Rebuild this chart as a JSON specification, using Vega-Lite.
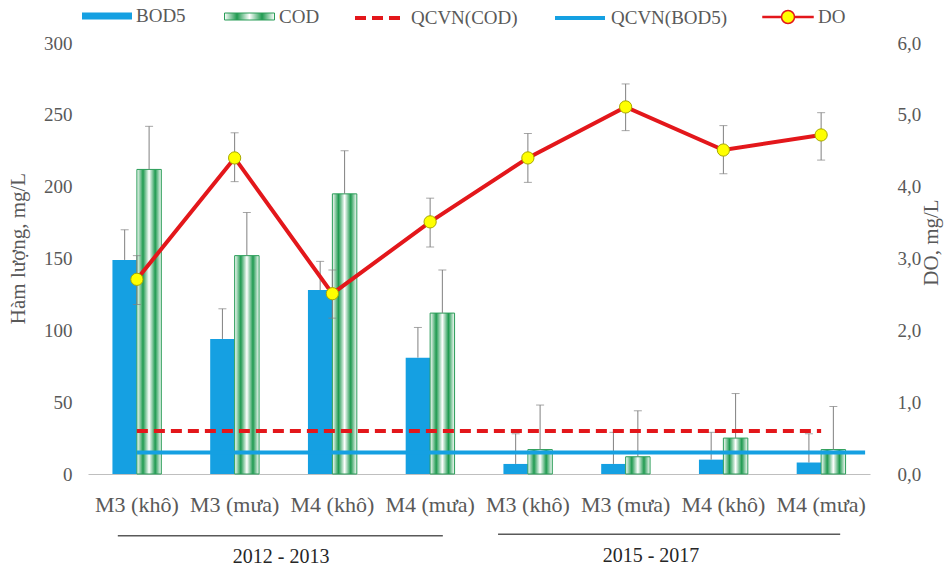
{
  "$schema": "https://vega.github.io/schema/vega-lite/v6.json",
  "width": 782,
  "height": 431,
  "autosize": {"type": "none"},
  "padding": {"left": 88, "top": 43, "right": 76, "bottom": 94},
  "background": "white",
  "config": {
    "view": {"stroke": null},
    "font": "Liberation Serif",
    "axis": {"grid": false},
    "legend": {"labelFont": "Liberation Serif", "labelFontSize": 19, "labelColor": "#595959", "labelOffset": 4, "padding": 0, "symbolSize": 2500, "orient": "none", "title": null}
  },
  "datasets": {
    "bars": [
      {"cat": "M3 (khô)|a", "series": "BOD5", "value": 149, "upper": 170},
      {"cat": "M3 (khô)|a", "series": "COD", "value": 212, "upper": 242},
      {"cat": "M3 (mưa)|a", "series": "BOD5", "value": 94, "upper": 115},
      {"cat": "M3 (mưa)|a", "series": "COD", "value": 152, "upper": 182},
      {"cat": "M4 (khô)|a", "series": "BOD5", "value": 128, "upper": 148},
      {"cat": "M4 (khô)|a", "series": "COD", "value": 195, "upper": 225},
      {"cat": "M4 (mưa)|a", "series": "BOD5", "value": 81, "upper": 102},
      {"cat": "M4 (mưa)|a", "series": "COD", "value": 112, "upper": 142},
      {"cat": "M3 (khô)|b", "series": "BOD5", "value": 7, "upper": 28},
      {"cat": "M3 (khô)|b", "series": "COD", "value": 17, "upper": 48},
      {"cat": "M3 (mưa)|b", "series": "BOD5", "value": 7, "upper": 29},
      {"cat": "M3 (mưa)|b", "series": "COD", "value": 12, "upper": 44},
      {"cat": "M4 (khô)|b", "series": "BOD5", "value": 10, "upper": 29},
      {"cat": "M4 (khô)|b", "series": "COD", "value": 25, "upper": 56},
      {"cat": "M4 (mưa)|b", "series": "BOD5", "value": 8, "upper": 28},
      {"cat": "M4 (mưa)|b", "series": "COD", "value": 17, "upper": 47}
    ],
    "do": [
      {"cat": "M3 (khô)|a", "series": "DO", "value": 2.71, "lower": 2.36, "upper": 3.04},
      {"cat": "M3 (mưa)|a", "series": "DO", "value": 4.40, "lower": 4.07, "upper": 4.75},
      {"cat": "M4 (khô)|a", "series": "DO", "value": 2.51, "lower": 2.17, "upper": 2.84},
      {"cat": "M4 (mưa)|a", "series": "DO", "value": 3.51, "lower": 3.16, "upper": 3.84},
      {"cat": "M3 (khô)|b", "series": "DO", "value": 4.40, "lower": 4.06, "upper": 4.74},
      {"cat": "M3 (mưa)|b", "series": "DO", "value": 5.11, "lower": 4.78, "upper": 5.43},
      {"cat": "M4 (khô)|b", "series": "DO", "value": 4.51, "lower": 4.18, "upper": 4.85},
      {"cat": "M4 (mưa)|b", "series": "DO", "value": 4.72, "lower": 4.37, "upper": 5.03}
    ],
    "qcvn": [
      {"series": "QCVN(COD)", "value": 30, "start": "M3 (khô)|a", "end": "M4 (mưa)|b"},
      {"series": "QCVN(BOD5)", "value": 15, "start": "M3 (khô)|a", "end": "M4 (mưa)|b"}
    ],
    "groups": [
      {"label": "2012 - 2013", "start": "M3 (khô)|a", "end": "M4 (mưa)|a", "mid": "M3 (mưa)|a"},
      {"label": "2015 - 2017", "start": "M3 (khô)|b", "end": "M4 (mưa)|b", "mid": "M3 (mưa)|b"}
    ]
  },
  "layer": [
    {
      "layer": [
        {
          "data": {"name": "bars"},
          "transform": [{"filter": "datum.series === 'BOD5'"}],
          "mark": {"type": "bar"},
          "encoding": {
            "x": {
              "field": "cat", "type": "nominal", "title": null,
              "scale": {"domain": ["M3 (khô)|a", "M3 (mưa)|a", "M4 (khô)|a", "M4 (mưa)|a", "M3 (khô)|b", "M3 (mưa)|b", "M4 (khô)|b", "M4 (mưa)|b"], "paddingInner": 0.5, "paddingOuter": 0.25},
              "axis": {"labelExpr": "split(datum.value, '|')[0]", "labelAngle": 0, "labelOverlap": false, "domainColor": "#bfbfbf", "domainWidth": 1, "ticks": false, "labelPadding": 20, "labelFontSize": 22, "labelColor": "#595959", "labelLimit": 200}
            },
            "xOffset": {"field": "series", "type": "nominal", "scale": {"domain": ["BOD5", "COD"], "paddingInner": 0, "paddingOuter": 0}},
            "y": {
              "field": "value", "type": "quantitative",
              "scale": {"domain": [0, 300]},
              "axis": {"orient": "left", "values": [0, 50, 100, 150, 200, 250, 300], "domain": false, "ticks": false, "labelPadding": 16, "labelFontSize": 19, "labelColor": "#595959", "title": "Hàm lượng, mg/L", "titleFontSize": 21, "titleFontWeight": "normal", "titleColor": "#595959", "titleAngle": 270, "titleX": -70, "titleY": 205, "titleAlign": "center", "titleBaseline": "middle"}
            },
            "fill": {
              "field": "series", "type": "nominal",
              "scale": {"domain": ["BOD5"], "range": ["#15a0e2"]},
              "legend": {"orient": "none", "legendX": -6, "legendY": -52, "title": null, "symbolType": "M-1,-0.14H1V0.14H-1Z", "symbolStrokeWidth": 0}
            }
          }
        },
        {
          "data": {"name": "bars"},
          "transform": [{"filter": "datum.series === 'COD'"}],
          "mark": {"type": "bar", "strokeWidth": 1, "fill": {"gradient": "linear", "x1": 0, "y1": 0, "x2": 1, "y2": 0, "stops": [{"offset": 0, "color": "#ffffff"}, {"offset": 0.25, "color": "#1f9a50"}, {"offset": 0.5, "color": "#ffffff"}, {"offset": 0.75, "color": "#1f9a50"}, {"offset": 1, "color": "#ffffff"}]}},
          "encoding": {
            "x": {"field": "cat", "type": "nominal", "title": null},
            "xOffset": {"field": "series", "type": "nominal"},
            "y": {"field": "value", "type": "quantitative", "scale": {"domain": [0, 300]}},
            "stroke": {
              "field": "series", "type": "nominal",
              "scale": {"domain": ["COD"], "range": ["#2a9d58"]},
              "legend": {"orient": "none", "legendX": 136, "legendY": -52, "title": null, "symbolType": "M-1,-0.14H1V0.14H-1Z", "symbolStrokeWidth": 1}
            }
          }
        },
        {
          "data": {"name": "bars"},
          "mark": {"type": "rule", "color": "#808080", "strokeWidth": 1},
          "encoding": {
            "x": {"field": "cat", "type": "nominal", "title": null},
            "xOffset": {"field": "series", "type": "nominal"},
            "y": {"field": "value", "type": "quantitative", "scale": {"domain": [0, 300]}},
            "y2": {"field": "upper"}
          }
        },
        {
          "data": {"name": "bars"},
          "mark": {"type": "tick", "color": "#808080", "size": 8, "thickness": 1},
          "encoding": {
            "x": {"field": "cat", "type": "nominal", "title": null},
            "xOffset": {"field": "series", "type": "nominal"},
            "y": {"field": "upper", "type": "quantitative", "scale": {"domain": [0, 300]}}
          }
        },
        {
          "data": {"name": "qcvn"},
          "transform": [{"filter": "datum.series === 'QCVN(BOD5)'"}],
          "mark": {"type": "rule", "strokeWidth": 4},
          "encoding": {
            "x": {"field": "start", "type": "nominal", "title": null, "bandPosition": 0.5},
            "x2": {"field": "end", "bandPosition": 1.4},
            "y": {"field": "value", "type": "quantitative", "scale": {"domain": [0, 300]}},
            "color": {
              "field": "series", "type": "nominal",
              "scale": {"domain": ["QCVN(BOD5)"], "range": ["#15a0e2"]},
              "legend": {"orient": "none", "legendX": 465, "legendY": -52, "title": null, "symbolType": "stroke", "symbolStrokeWidth": 4}
            }
          }
        },
        {
          "data": {"name": "qcvn"},
          "transform": [{"filter": "datum.series === 'QCVN(COD)'"}],
          "mark": {"type": "rule", "color": "#e3171b", "strokeWidth": 4},
          "encoding": {
            "x": {"field": "start", "type": "nominal", "title": null, "bandPosition": 0.5},
            "x2": {"field": "end", "bandPosition": 0.5},
            "y": {"field": "value", "type": "quantitative", "scale": {"domain": [0, 300]}},
            "strokeDash": {
              "field": "series", "type": "nominal",
              "scale": {"domain": ["QCVN(COD)"], "range": [[11, 6]]},
              "legend": {"orient": "none", "legendX": 265, "legendY": -52, "title": null, "symbolType": "stroke", "symbolStrokeWidth": 4, "symbolStrokeColor": "#e3171b"}
            }
          }
        },
        {
          "data": {"name": "groups"},
          "transform": [{"filter": "datum.label === '2012 - 2013'"}],
          "mark": {"type": "rule", "color": "#595959", "strokeWidth": 1.5},
          "encoding": {
            "x": {"field": "start", "type": "nominal", "title": null, "bandPosition": 0.11},
            "x2": {"field": "end", "bandPosition": 0.76},
            "y": {"datum": -43, "type": "quantitative", "scale": {"domain": [0, 300]}}
          }
        },
        {
          "data": {"name": "groups"},
          "transform": [{"filter": "datum.label === '2015 - 2017'"}],
          "mark": {"type": "rule", "color": "#595959", "strokeWidth": 1.5},
          "encoding": {
            "x": {"field": "start", "type": "nominal", "title": null, "bandPosition": -0.11},
            "x2": {"field": "end", "bandPosition": 0.89},
            "y": {"datum": -42, "type": "quantitative", "scale": {"domain": [0, 300]}}
          }
        },
        {
          "data": {"name": "groups"},
          "transform": [{"filter": "datum.label === '2012 - 2013'"}],
          "mark": {"type": "text", "fontSize": 20, "color": "#262626", "baseline": "middle", "align": "center"},
          "encoding": {
            "x": {"field": "mid", "type": "nominal", "title": null, "bandPosition": 1.45},
            "y": {"datum": -58, "type": "quantitative", "scale": {"domain": [0, 300]}},
            "text": {"field": "label"}
          }
        },
        {
          "data": {"name": "groups"},
          "transform": [{"filter": "datum.label === '2015 - 2017'"}],
          "mark": {"type": "text", "fontSize": 20, "color": "#262626", "baseline": "middle", "align": "center"},
          "encoding": {
            "x": {"field": "mid", "type": "nominal", "title": null, "bandPosition": 1.02},
            "y": {"datum": -57, "type": "quantitative", "scale": {"domain": [0, 300]}},
            "text": {"field": "label"}
          }
        }
      ]
    },
    {
      "layer": [
        {
          "data": {"name": "do"},
          "mark": {"type": "rule", "color": "#808080", "strokeWidth": 1},
          "encoding": {
            "x": {"field": "cat", "type": "nominal", "title": null},
            "y": {
              "field": "lower", "type": "quantitative", "scale": {"domain": [0, 6]},
              "axis": {"orient": "right", "values": [0, 1, 2, 3, 4, 5, 6], "labelExpr": "replace(format(datum.value, '.1f'), '.', ',')", "domain": false, "ticks": false, "labelPadding": 27, "labelFontSize": 19, "labelColor": "#595959", "title": "DO, mg/L", "titleFontSize": 21, "titleFontWeight": "normal", "titleColor": "#595959", "titleAngle": 270, "titleX": 61, "titleY": 199, "titleAlign": "center", "titleBaseline": "middle"}
            },
            "y2": {"field": "upper"}
          }
        },
        {
          "data": {"name": "do"},
          "mark": {"type": "tick", "color": "#808080", "size": 8, "thickness": 1},
          "encoding": {
            "x": {"field": "cat", "type": "nominal", "title": null},
            "y": {"field": "lower", "type": "quantitative", "scale": {"domain": [0, 6]}}
          }
        },
        {
          "data": {"name": "do"},
          "mark": {"type": "tick", "color": "#808080", "size": 8, "thickness": 1},
          "encoding": {
            "x": {"field": "cat", "type": "nominal", "title": null},
            "y": {"field": "upper", "type": "quantitative", "scale": {"domain": [0, 6]}}
          }
        },
        {
          "data": {"name": "do"},
          "mark": {"type": "line", "color": "#e3171b", "strokeWidth": 4},
          "encoding": {
            "x": {"field": "cat", "type": "nominal", "title": null},
            "y": {"field": "value", "type": "quantitative", "scale": {"domain": [0, 6]}},
            "opacity": {
              "field": "series", "type": "nominal",
              "scale": {"domain": ["DO"], "range": [1, 1]},
              "legend": {"orient": "none", "legendX": 674, "legendY": -52, "title": null, "symbolType": "M-1,-0.02H-0.26V0.02H-1Z M0.26,-0.02H1V0.02H0.26Z M0.26,0A0.26,0.26 0 1 1 -0.26,0A0.26,0.26 0 1 1 0.26,0Z", "symbolFillColor": "#ffff00", "symbolStrokeColor": "#e3171b"}
            }
          }
        },
        {
          "data": {"name": "do"},
          "mark": {"type": "point", "filled": true, "size": 150, "fill": "#ffff00", "stroke": "#a8a800", "strokeWidth": 1, "opacity": 1},
          "encoding": {
            "x": {"field": "cat", "type": "nominal", "title": null},
            "y": {"field": "value", "type": "quantitative", "scale": {"domain": [0, 6]}}
          }
        }
      ]
    }
  ],
  "resolve": {"scale": {"y": "independent"}}
}
